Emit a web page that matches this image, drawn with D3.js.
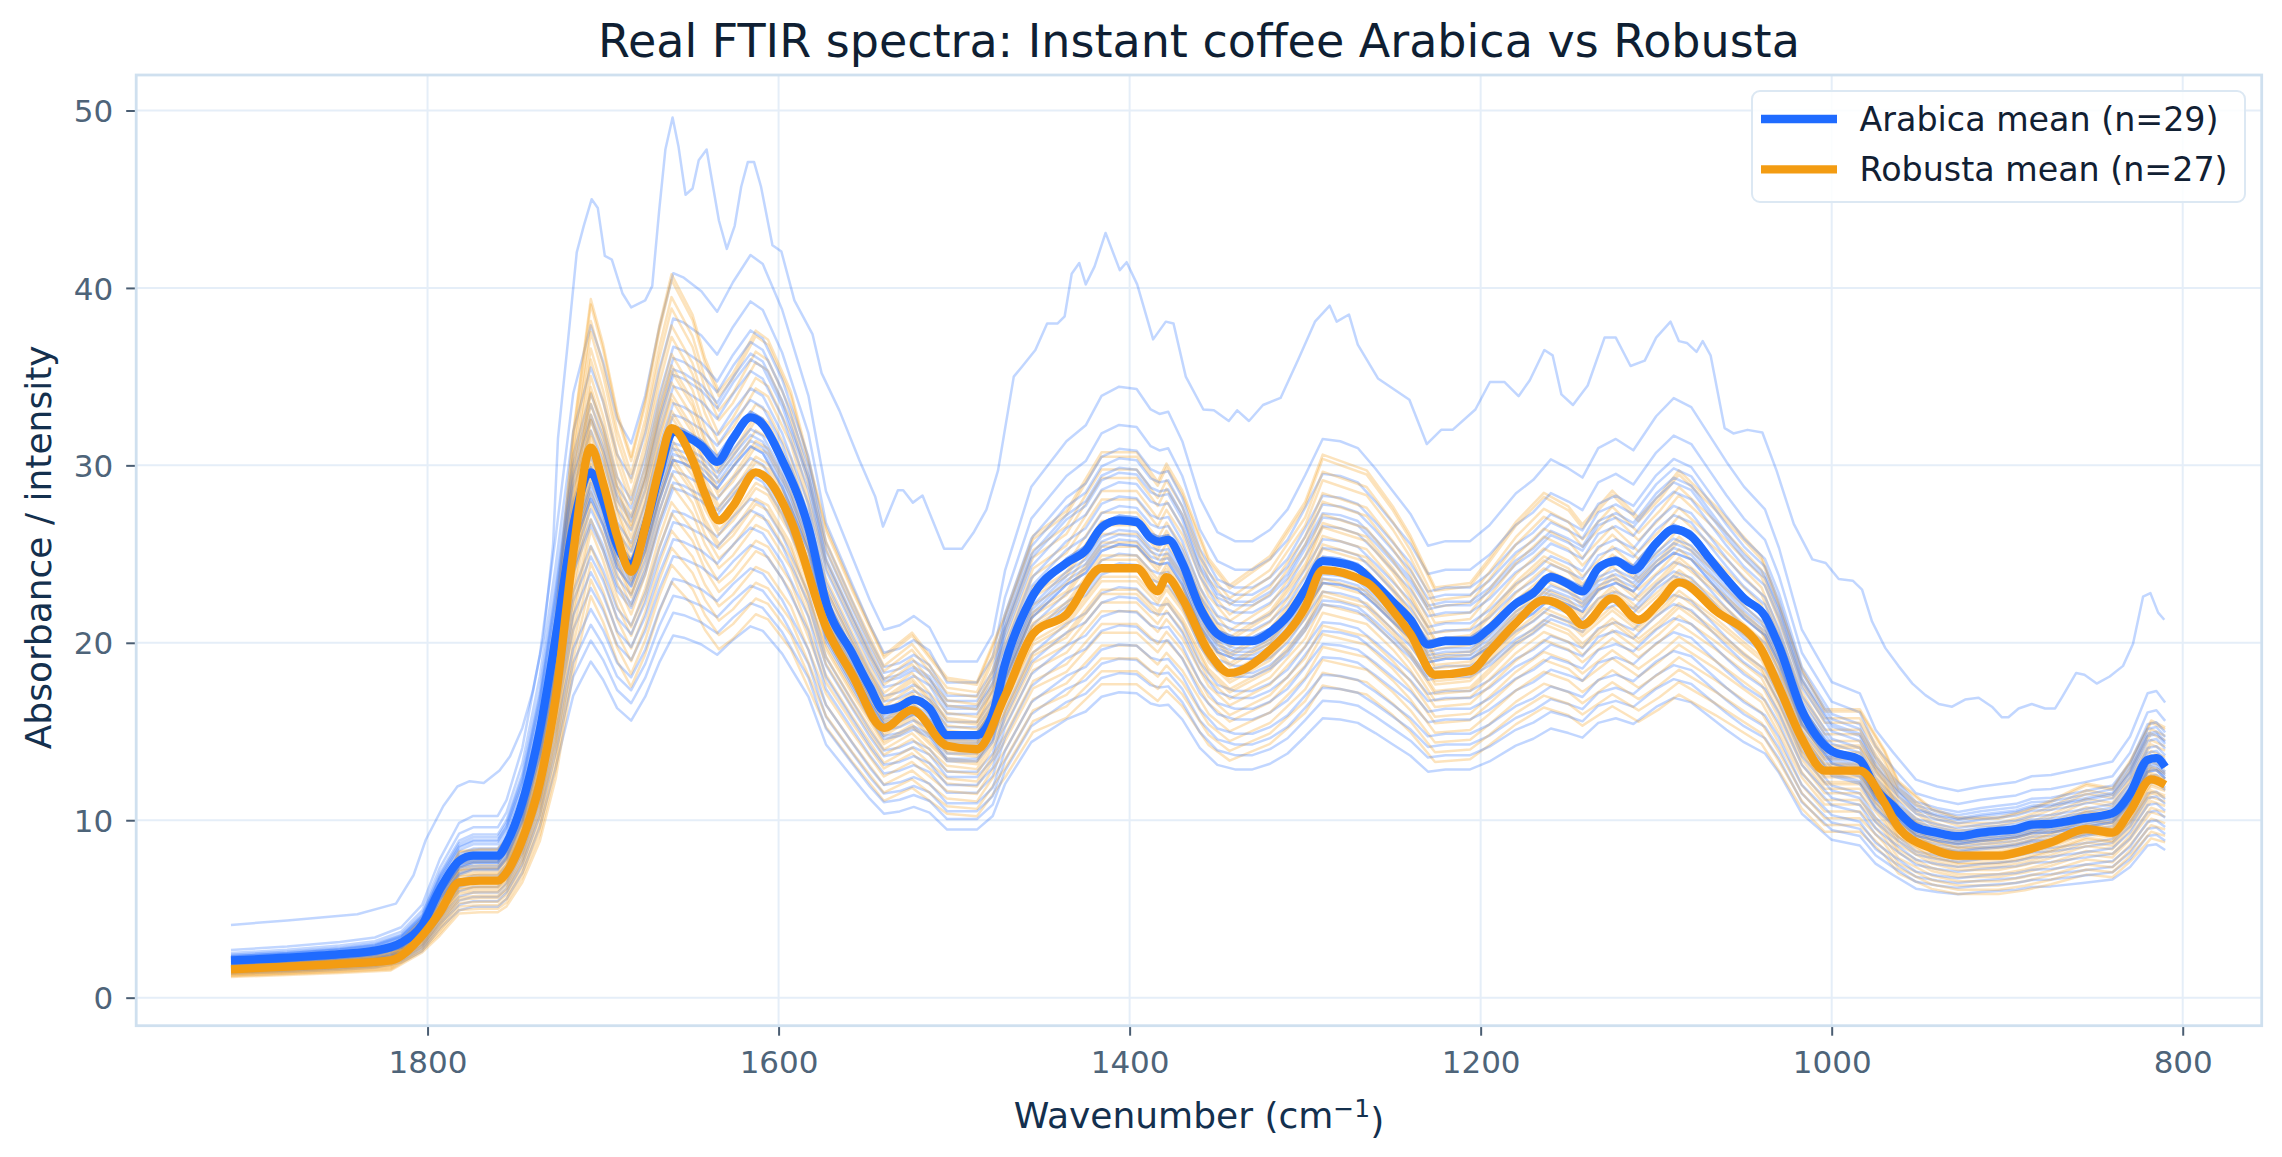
<!DOCTYPE html>
<html>
<head>
<meta charset="utf-8">
<script src="https://cdn.jsdelivr.net/npm/d3@7/dist/d3.min.js"></script>
<style>
  body { margin: 0; background: #ffffff; }
  svg { display: block; font-family: "DejaVu Sans", sans-serif; }
</style>
</head>
<body>
<div id="svgContainer"></div>
<script>
// ---- data ----
var xTicks = [1800, 1600, 1400, 1200, 1000, 800];
var yTicks = [0, 10, 20, 30, 40, 50];

var arabicaWn = [1912, 1880, 1850, 1830, 1815, 1803, 1793, 1782, 1774, 1760, 1755, 1746, 1736, 1727, 1717, 1707,
    1700, 1692, 1684, 1676, 1668, 1660, 1654, 1644, 1635, 1626, 1616, 1609, 1598, 1583, 1573, 1558, 1548, 1540,
    1531, 1523, 1514, 1504, 1487, 1478, 1471, 1456, 1436, 1425, 1416, 1406, 1396, 1388, 1383, 1378, 1370, 1360,
    1350, 1340, 1330, 1320, 1310, 1300, 1290, 1280, 1270, 1260, 1250, 1240, 1230, 1220, 1206, 1195, 1180, 1170,
    1160, 1150, 1142, 1133, 1123, 1113, 1100, 1090, 1080, 1070, 1060, 1050, 1038, 1030, 1017, 1000, 984, 975, 965,
    952, 940, 928, 915, 905, 895, 886, 875, 857, 840, 830, 820, 815, 810];
var arabicaMean = [2.1, 2.25, 2.45, 2.65, 3.1, 4.1, 6.1, 7.7, 8.0, 8.0, 8.7, 11.0, 15.1, 20.3, 26.6, 29.6,
    28.0, 25.5, 24.4, 26.5, 29.5, 31.9, 31.7, 31.1, 30.2, 31.5, 32.7, 32.3, 30.3, 26.5, 22.3, 19.4, 17.5, 16.2,
    16.4, 16.8, 16.3, 14.8, 14.8, 16.0, 18.8, 22.5, 24.5, 25.2, 26.5, 26.9, 26.8, 25.9, 25.7, 25.8, 24.5, 22.0,
    20.5, 20.1, 20.1, 20.6, 21.5, 23.0, 24.6, 24.5, 24.2, 23.3, 22.3, 21.3, 19.9, 20.1, 20.1, 20.8, 22.2, 22.8,
    23.7, 23.3, 22.9, 24.2, 24.6, 24.1, 25.6, 26.4, 26.0, 24.8, 23.6, 22.5, 21.5, 19.8, 16.2, 13.9, 13.4, 11.8, 10.8,
    9.6, 9.3, 9.1, 9.3, 9.4, 9.5, 9.75, 9.8, 10.1, 10.4, 11.5, 13.4, 13.5, 13.0];

var robustaWn = [1912, 1880, 1850, 1821, 1803, 1793, 1782, 1770, 1760, 1755, 1746, 1736, 1727, 1717, 1707, 1700,
    1692, 1684, 1676, 1668, 1661, 1649, 1642, 1634, 1626, 1613, 1606, 1593, 1573, 1558, 1540, 1524, 1504, 1487,
    1471, 1455, 1436, 1416, 1396, 1384, 1379, 1370, 1355, 1343, 1320, 1300, 1290, 1265, 1250, 1240, 1226, 1206,
    1195, 1180, 1164, 1150, 1142, 1125, 1110, 1098, 1087, 1066, 1040, 1030, 1017, 1004, 984, 970, 962, 943, 928,
    905, 890, 875, 855, 840, 830, 818, 810];
var robustaMean = [1.6, 1.75, 1.9, 2.1, 3.5, 4.8, 6.5, 6.6, 6.6, 7.05, 8.9, 12.1, 16.9, 25.1, 31.0, 29.0,
    26.0, 24.0, 26.5, 29.8, 32.1, 30.3, 28.4, 26.9, 27.7, 29.6, 29.2, 26.9, 20.9, 18.2, 15.2, 16.2, 14.2, 14.0,
    17.0, 20.5, 21.6, 24.2, 24.2, 22.9, 23.7, 22.5, 19.5, 18.3, 19.6, 22.0, 24.1, 23.4, 21.8, 20.5, 18.2, 18.4,
    19.5, 21.1, 22.4, 21.8, 21.0, 22.5, 21.3, 22.3, 23.4, 21.8, 19.6, 17.5, 14.6, 12.8, 12.8, 11.0, 9.6, 8.4, 8.0,
    8.0, 8.3, 8.75, 9.5, 9.3, 10.5, 12.3, 12.0];

// the one Arabica sample that sits well above all the others
var outlierWn = [1912, 1880, 1840, 1818, 1808, 1801, 1791, 1783, 1776, 1768, 1759, 1753, 1746, 1740, 1734, 1728.5,
    1725.7, 1720, 1715, 1711, 1706.5, 1703, 1699, 1695, 1689, 1684, 1676, 1672, 1668, 1664.5, 1660.4, 1657, 1653,
    1649, 1645.5, 1641, 1634, 1629.5, 1625, 1621.3, 1617.5, 1614, 1610, 1603.5, 1598.4, 1591, 1580.7, 1575.5,
    1565.4, 1554, 1545, 1540.5, 1532, 1529, 1523.5, 1518, 1505.7, 1495.5, 1489, 1481.6, 1475, 1466, 1461, 1453.7,
    1447, 1441, 1437, 1433, 1428.7, 1425, 1420, 1413.7, 1405.6, 1401.7, 1395.7, 1386.6, 1379.4, 1375, 1368, 1358,
    1352, 1343.5, 1338.7, 1332, 1324, 1314, 1304, 1294.4, 1286, 1282, 1275, 1270, 1258.5, 1240.6, 1230.7, 1222.5,
    1216, 1203, 1194.7, 1186.5, 1178.4, 1172, 1163.7, 1159, 1154, 1147.4, 1139, 1129.4, 1123, 1114.6, 1106.5, 1100,
    1091.8, 1087, 1082.5, 1077, 1073.5, 1069, 1061, 1056, 1048, 1039.5, 1031.4, 1021.6, 1011, 1003.4, 996, 988,
    982.7, 977, 969.4, 962, 954, 946.6, 939, 931.4, 924, 916.3, 908.7, 903, 899.3, 893.5, 886, 878.4, 872.7, 869,
    860.7, 856, 849, 841.6, 834, 828.3, 822.6, 818.4, 814, 810.5];
var outlierVals = [4.1, 4.35, 4.7, 5.3, 6.9, 8.9, 10.8, 11.9, 12.2, 12.1, 12.8, 13.6, 15.2, 17.3, 20.3, 25.5,
    31.5, 37.0, 42.0, 43.5, 45.0, 44.5, 41.8, 41.6, 39.7, 38.9, 39.3, 40.1, 44.4, 47.8, 49.6, 47.95, 45.25,
    45.6, 47.2, 47.8, 43.8, 42.2, 43.5, 45.7, 47.1, 47.1, 45.7, 42.4, 42.05, 39.3, 37.4, 35.2,
    33.1, 30.3, 28.25, 26.55, 28.6, 28.6, 27.9, 28.3, 25.3, 25.3, 26.2, 27.5, 29.7, 35.0, 35.6, 36.5,
    38.0, 38.0, 38.4, 40.8, 41.4, 40.2, 41.2, 43.1, 41.0, 41.45, 40.2, 37.1, 38.1, 38.0, 35.0, 33.15,
    33.1, 32.5, 33.1, 32.5, 33.4, 33.8, 35.95, 38.1, 39.0, 38.1, 38.5, 36.8, 34.9, 33.7, 31.2, 32.0,
    32.0, 33.15, 34.7, 34.7, 33.9, 34.8, 36.5, 36.2, 34.0, 33.4, 34.5, 37.2, 37.2, 35.6, 35.9, 37.2,
    38.1, 37.0, 36.9, 36.4, 37.0, 36.2, 32.1, 31.8, 32.0, 31.85, 29.7, 26.7, 24.7, 24.5, 23.6, 23.5,
    23.0, 21.2, 19.7, 18.7, 17.7, 17.05, 16.55, 16.4, 16.8, 16.9, 16.4, 15.8, 15.8, 16.3, 16.55, 16.3, 16.3, 16.9,
    18.3, 18.2, 17.7, 18.1, 18.7, 19.95, 22.6, 22.8, 21.7, 21.3];

// relative intensity of each remaining sample against its group mean (read at the 1707 peak)
var arabicaScale = [1.28, 0.86, 1.20, 0.64, 1.15, 0.95, 1.13, 0.71, 1.11, 1.01, 1.10, 0.78, 1.08, 0.93,
    1.05, 0.68, 1.03, 0.96, 1.01, 0.84, 1.00, 0.91, 0.98, 0.74, 0.97, 0.90, 0.95, 0.81];
var robustaScale = [1.27, 0.92, 1.26, 0.73, 1.23, 1.00, 1.21, 0.85, 1.18, 0.97, 1.16, 0.79, 1.13, 1.05,
    1.11, 0.82, 1.10, 0.95, 1.08, 0.76, 1.06, 0.94, 1.03, 0.87, 1.02, 0.90, 0.98];

var seriesNames = ["Arabica mean (n=29)", "Robusta mean (n=27)"];
var seriesColors = ["#1f6bff", "#f39c12"];

function getSpectraChart() {
    let width = 2282, height = 1157;
    var plot = { left: 136.2, right: 2261.7, top: 75, bottom: 1025.7 };

    var svg = d3.select("#svgContainer")
        .append("svg")
        .attr("width", width)
        .attr("height", height)
        .attr("viewBox", [0, 0, width, height]);

    var xScale = d3.scaleLinear().domain([1966, 755]).range([plot.left, plot.right]);
    var yScale = d3.scaleLinear().domain([-1.58, 52.0]).range([plot.bottom, plot.top]);

    // grid
    svg.append("g").selectAll("line")
        .data(xTicks).enter().append("line")
        .attr("x1", d => xScale(d)).attr("x2", d => xScale(d))
        .attr("y1", plot.top).attr("y2", plot.bottom)
        .attr("stroke", "#e5eef8").attr("stroke-width", 2);
    svg.append("g").selectAll("line")
        .data(yTicks).enter().append("line")
        .attr("x1", plot.left).attr("x2", plot.right)
        .attr("y1", d => yScale(d)).attr("y2", d => yScale(d))
        .attr("stroke", "#e5eef8").attr("stroke-width", 2);

    // axes
    var xAxis = svg.append("g")
        .attr("transform", "translate(0," + plot.bottom + ")")
        .call(d3.axisBottom(xScale).tickValues(xTicks).tickSize(10).tickPadding(12).tickFormat(d3.format("d")));
    var yAxis = svg.append("g")
        .attr("transform", "translate(" + plot.left + ",0)")
        .call(d3.axisLeft(yScale).tickValues(yTicks).tickSize(10).tickPadding(13).tickFormat(d3.format("d")));
    [xAxis, yAxis].forEach(ax => {
        ax.select(".domain").remove();
        ax.selectAll(".tick line").attr("stroke", "#4a5d72").attr("stroke-width", 2);
        ax.selectAll(".tick text")
            .attr("fill", "#4e6479")
            .style("font-size", "31px")
            .style("font-family", "DejaVu Sans");
    });
    xAxis.selectAll(".tick text").attr("dy", null).attr("y", 47);
    yAxis.selectAll(".tick text").attr("dy", "0.36em");

    // spectra
    var line = d3.line()
        .x(d => xScale(d[0]))
        .y(d => yScale(d[1]));
    var smooth = d3.line()
        .x(d => xScale(d[0]))
        .y(d => yScale(d[1]))
        .curve(d3.curveMonotoneX);

    var zipPts = (wn, vals, k) => wn.map((w, i) => [w, vals[i] * k]);
    var thin = function (g, pts, color) {
        g.append("path")
            .attr("d", line(pts))
            .attr("fill", "none").attr("stroke", color)
            .attr("stroke-opacity", 0.28).attr("stroke-width", 2.5)
            .attr("stroke-linejoin", "round");
    };

    var lines = svg.append("g");
    thin(lines, zipPts(outlierWn, outlierVals, 1), seriesColors[0]);
    // interleave the two groups so neither sits wholly on top
    var n = Math.max(arabicaScale.length, robustaScale.length);
    for (var i = 0; i < n; i++) {
        if (i < arabicaScale.length) thin(lines, zipPts(arabicaWn, arabicaMean, arabicaScale[i]), seriesColors[0]);
        if (i < robustaScale.length) thin(lines, zipPts(robustaWn, robustaMean, robustaScale[i]), seriesColors[1]);
    }
    lines.append("path")
        .attr("d", smooth(zipPts(arabicaWn, arabicaMean, 1)))
        .attr("fill", "none").attr("stroke", seriesColors[0])
        .attr("stroke-width", 8.3).attr("stroke-linejoin", "round");
    lines.append("path")
        .attr("d", smooth(zipPts(robustaWn, robustaMean, 1)))
        .attr("fill", "none").attr("stroke", seriesColors[1])
        .attr("stroke-width", 8.3).attr("stroke-linejoin", "round");

    // frame
    svg.append("rect")
        .attr("x", plot.left).attr("y", plot.top)
        .attr("width", plot.right - plot.left).attr("height", plot.bottom - plot.top)
        .attr("fill", "none").attr("stroke", "#cfe0ef").attr("stroke-width", 2.8);

    // legend
    var legend = svg.append("g");
    legend.append("rect")
        .attr("x", 1752).attr("y", 91).attr("width", 493).attr("height", 111).attr("rx", 8)
        .attr("fill", "#ffffff").attr("fill-opacity", 0.85)
        .attr("stroke", "#dce8f3").attr("stroke-width", 2);
    seriesNames.forEach((name, i) => {
        var ly = 119 + i * 50.3;
        legend.append("line")
            .attr("x1", 1761).attr("x2", 1837).attr("y1", ly).attr("y2", ly)
            .attr("stroke", seriesColors[i]).attr("stroke-width", 8.3);
        legend.append("text")
            .attr("x", 1859.6).attr("y", ly).attr("dy", "0.36em")
            .attr("fill", "#112033")
            .style("font-size", "33.3px")
            .text(name);
    });

    // titles
    svg.append("text")
        .attr("x", (plot.left + plot.right) / 2).attr("y", 57)
        .attr("text-anchor", "middle")
        .attr("fill", "#0f1f33")
        .style("font-size", "46px")
        .text("Real FTIR spectra: Instant coffee Arabica vs Robusta");

    var xLabel = svg.append("text")
        .attr("x", (plot.left + plot.right) / 2).attr("y", 1128)
        .attr("text-anchor", "middle")
        .attr("fill", "#14304e")
        .style("font-size", "36px");
    xLabel.append("tspan").text("Wavenumber (cm");
    xLabel.append("tspan").attr("dy", "-0.45em").style("font-size", "25px").text("\u22121");
    xLabel.append("tspan").attr("dy", "0.45em").text(")");

    svg.append("text")
        .attr("transform", "translate(51," + ((plot.top + plot.bottom) / 2 - 3) + ") rotate(-90)")
        .attr("text-anchor", "middle")
        .attr("fill", "#14304e")
        .style("font-size", "36px")
        .text("Absorbance / intensity");
}
getSpectraChart();
</script>
</body>
</html>
